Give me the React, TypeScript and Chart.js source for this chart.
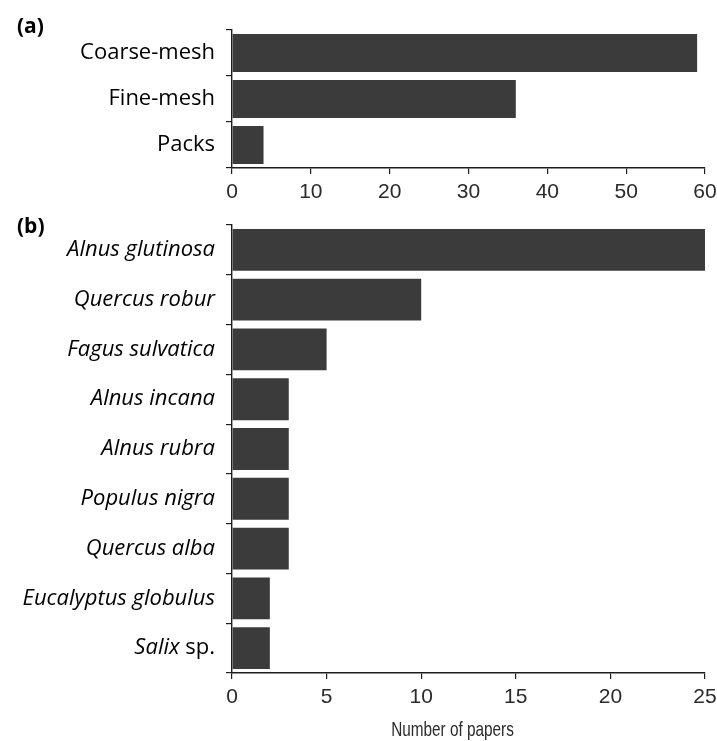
import React, { useEffect, useRef } from 'react';
import { Chart, registerables } from 'chart.js';

Chart.register(...registerables);

// ---- Data ----
const meshCategories = ['Coarse-mesh', 'Fine-mesh', 'Packs'];
const meshPapers = [59, 36, 4];
const meshTicks = [0, 10, 20, 30, 40, 50, 60];

const speciesCategories = [
  'Alnus glutinosa',
  'Quercus robur',
  'Fagus sulvatica',
  'Alnus incana',
  'Alnus rubra',
  'Populus nigra',
  'Quercus alba',
  'Eucalyptus globulus',
  'Salix sp.',
];
const speciesPapers = [25, 10, 5, 3, 3, 3, 3, 2, 2];
const speciesTicks = [0, 5, 10, 15, 20, 25];

const xAxisTitle = 'Number of papers';
const panelLabelA = '(a)';
const panelLabelB = '(b)';

// ---- Styles ----
const W = 717;
const H_A = 212;
const H_B = 741 - H_A;
const BAR_COLOR = '#3b3b3b';
const AXIS_COLOR = '#1e1e1e';
const TICK_FONT = { family: 'Liberation Sans, Arial, sans-serif', size: 21 };
const CAT_FAMILY = "'Open Sans', 'Noto Sans', sans-serif";
const Y_AXIS_WIDTH = 232;

function panelLabelPlugin(text: string, baseline: number) {
  return {
    id: 'panelLabel',
    afterDraw(chart: any) {
      const ctx = chart.ctx;
      ctx.save();
      ctx.font = `bold 21px ${CAT_FAMILY}`;
      ctx.fillStyle = '#000';
      ctx.textAlign = 'left';
      ctx.textBaseline = 'alphabetic';
      ctx.fillText(text, 17, baseline);
      ctx.restore();
    },
  };
}

const speciesLabelPlugin = {
  id: 'speciesLabels',
  afterDraw(chart: any) {
    const ctx = chart.ctx;
    const ys = chart.scales.y;
    const size = 22;
    ctx.save();
    ctx.fillStyle = '#000';
    ctx.textBaseline = 'middle';
    ctx.textAlign = 'left';
    speciesCategories.forEach((label, i) => {
      const words = label.split(' ');
      const parts = words.map((w, k) => ({
        text: (k > 0 ? ' ' : '') + w,
        italic: w !== 'sp.',
      }));
      let total = 0;
      const widths = parts.map((p) => {
        ctx.font = `${p.italic ? 'italic ' : ''}${size}px ${CAT_FAMILY}`;
        const w = ctx.measureText(p.text).width;
        total += w;
        return w;
      });
      let x = ys.right - 6 - 11 - total;
      const y = ys.getPixelForValue(i);
      parts.forEach((p, k) => {
        ctx.font = `${p.italic ? 'italic ' : ''}${size}px ${CAT_FAMILY}`;
        ctx.fillText(p.text, x, y);
        x += widths[k];
      });
    });
    ctx.restore();
  },
};

const axisTitlePlugin = {
  id: 'axisTitleB',
  afterDraw(chart: any) {
    const ctx = chart.ctx;
    const xs = chart.scales.x;
    const cx = (xs.left + xs.right) / 2 - 16;
    ctx.save();
    ctx.translate(cx, xs.bottom - 11);
    ctx.scale(0.73, 1);
    ctx.font = `21px 'Liberation Sans', Arial, sans-serif`;
    ctx.fillStyle = '#2a2a2a';
    ctx.textAlign = 'center';
    ctx.textBaseline = 'middle';
    ctx.fillText(xAxisTitle, 0, 0);
    ctx.restore();
  },
};

function xScale(max: number, ticks: number[], height: number) {
  return {
    type: 'linear',
    min: 0,
    max,
    afterBuildTicks: (s: any) => {
      s.ticks = ticks.map((v) => ({ value: v }));
    },
    afterFit: (s: any) => {
      s.height = height;
      s.paddingLeft = 0;
      s.paddingRight = 0;
    },
    grid: {
      drawOnChartArea: false,
      drawTicks: true,
      tickLength: 6,
      color: AXIS_COLOR,
      lineWidth: 1.2,
    },
    border: { display: true, color: AXIS_COLOR, width: 1.4 },
    ticks: {
      font: TICK_FONT,
      color: '#2a2a2a',
      padding: 6,
      maxRotation: 0,
      autoSkip: false,
    },
  };
}

function yScale(showTicks: boolean) {
  return {
    type: 'category',
    offset: true,
    afterFit: (s: any) => {
      s.width = Y_AXIS_WIDTH;
      s.paddingTop = 0;
      s.paddingBottom = 0;
    },
    grid: {
      offset: true,
      drawOnChartArea: false,
      drawTicks: true,
      tickLength: 6,
      color: AXIS_COLOR,
      lineWidth: 1.2,
    },
    border: { display: true, color: AXIS_COLOR, width: 1.4 },
    ticks: {
      display: showTicks,
      font: { family: CAT_FAMILY, size: 22 },
      color: '#000',
      padding: 11,
      autoSkip: false,
    },
  };
}

export default function App() {
  const refA = useRef<HTMLCanvasElement | null>(null);
  const refB = useRef<HTMLCanvasElement | null>(null);

  useEffect(() => {
    const chartA = new Chart(refA.current as HTMLCanvasElement, {
      type: 'bar',
      data: {
        labels: meshCategories,
        datasets: [
          {
            data: meshPapers,
            backgroundColor: BAR_COLOR,
            borderWidth: 0,
            barPercentage: 0.83,
            categoryPercentage: 1,
          },
        ],
      },
      options: {
        indexAxis: 'y',
        animation: false,
        responsive: false,
        maintainAspectRatio: false,
        layout: { padding: { top: 30, right: 12, left: 0, bottom: 0 } },
        plugins: { legend: { display: false }, tooltip: { enabled: false } },
        scales: {
          x: xScale(60, meshTicks, H_A - 168) as any,
          y: yScale(true) as any,
        },
      },
      plugins: [panelLabelPlugin(panelLabelA, 33)],
    });

    const chartB = new Chart(refB.current as HTMLCanvasElement, {
      type: 'bar',
      data: {
        labels: speciesCategories,
        datasets: [
          {
            data: speciesPapers,
            backgroundColor: BAR_COLOR,
            borderWidth: 0,
            barPercentage: 0.84,
            categoryPercentage: 1,
          },
        ],
      },
      options: {
        indexAxis: 'y',
        animation: false,
        responsive: false,
        maintainAspectRatio: false,
        layout: { padding: { top: 13, right: 12, left: 0, bottom: 0 } },
        plugins: { legend: { display: false }, tooltip: { enabled: false } },
        scales: {
          x: xScale(25, speciesTicks, H_B - (673 - H_A)) as any,
          y: yScale(false) as any,
        },
      },
      plugins: [panelLabelPlugin(panelLabelB, 21), speciesLabelPlugin, axisTitlePlugin],
    });

    return () => {
      chartA.destroy();
      chartB.destroy();
    };
  }, []);

  return (
    <div
      style={{
        position: 'fixed',
        left: 0,
        top: 0,
        width: W,
        height: 741,
        background: '#fff',
      }}
    >
      <canvas
        ref={refA}
        width={W}
        height={H_A}
        style={{ position: 'absolute', left: 0, top: 0, width: W, height: H_A }}
      />
      <canvas
        ref={refB}
        width={W}
        height={H_B}
        style={{ position: 'absolute', left: 0, top: H_A, width: W, height: H_B }}
      />
    </div>
  );
}
